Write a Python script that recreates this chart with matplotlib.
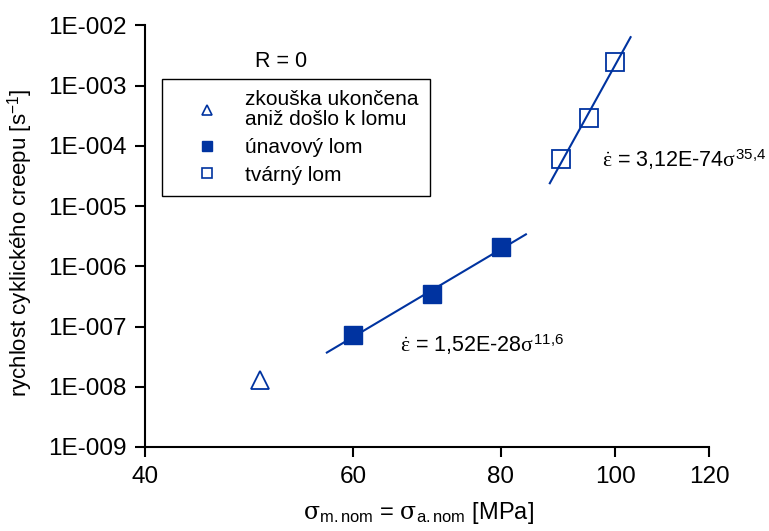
import math
import matplotlib
matplotlib.use("Agg")
import matplotlib.pyplot as plt
from matplotlib.lines import Line2D
from matplotlib.ticker import FixedLocator, FuncFormatter, NullLocator

plt.rcParams['font.family'] = ['Liberation Sans', 'DejaVu Sans']
plt.rcParams['mathtext.fontset'] = 'custom'
plt.rcParams['mathtext.rm'] = 'Liberation Sans'
plt.rcParams['mathtext.it'] = 'Liberation Serif'
plt.rcParams['mathtext.sf'] = 'DejaVu Serif'
plt.rcParams['mathtext.bf'] = 'Liberation Sans:bold'

# data
stop_x = [50]
stop_y = [1.3e-8]
fat_x = [60, 70, 80]
fat_y = [7.2e-8, 3.5e-7, 2.1e-6]
duct_x = [90, 95, 100]
duct_y = [6.0e-5, 2.9e-4, 2.5e-3]
# fitted lines, end points
fat_fit_x = [57, 84]
fat_fit_y = [3.7e-8, 3.4e-6]
duct_fit_x = [88, 103]
duct_fit_y = [2.4e-5, 6.4e-3]

x_ticks = [40, 60, 80, 100, 120]
y_ticks = [1e-9, 1e-8, 1e-7, 1e-6, 1e-5, 1e-4, 1e-3, 1e-2]
labels = ["zkouška ukončena\naniž došlo k lomu", "únavový lom", "tvárný lom"]

blue = '#0033a0'

fig = plt.figure(figsize=(7.69, 5.31), dpi=100)
ax = fig.add_axes([0.1886, 0.1582, 0.7334, 0.7938])

ax.plot(fat_fit_x, fat_fit_y, color=blue, lw=1.5)
ax.plot(duct_fit_x, duct_fit_y, color=blue, lw=1.5)
ax.plot(stop_x, stop_y, ls='none', marker='^', ms=13, mfc='white', mec=blue, mew=1.3)
ax.plot(fat_x, fat_y, ls='none', marker='s', ms=13, mfc=blue, mec=blue, mew=1.0)
ax.plot(duct_x, duct_y, ls='none', marker='s', ms=13, mfc='none', mec=blue, mew=1.3)

ax.set_xscale('log')
ax.set_yscale('log')
ax.set_xlim(40, 120)
ax.set_ylim(1e-9, 1e-2)
ax.xaxis.set_major_locator(FixedLocator(x_ticks))
ax.xaxis.set_minor_locator(NullLocator())
ax.xaxis.set_major_formatter(FuncFormatter(lambda v, p: f"{v:.0f}"))
ax.yaxis.set_major_locator(FixedLocator(y_ticks))
ax.yaxis.set_minor_locator(NullLocator())
ax.yaxis.set_major_formatter(FuncFormatter(lambda v, p: f"1E-{-round(math.log10(v)):03d}"))

for s in ['top', 'right']:
    ax.spines[s].set_visible(False)
for s in ['left', 'bottom']:
    ax.spines[s].set_linewidth(1.5)
ax.tick_params(direction='out', length=7, width=1.5, labelsize=17.5)
ax.tick_params(axis='x', pad=7)
ax.tick_params(axis='y', pad=6)

ax.set_ylabel("rychlost cyklického creepu [s$^{-1}$]", fontsize=16)
ax.yaxis.set_label_coords(-0.195, 0.485)
ax.set_xlabel(r"$\mathsf{\sigma}_{\mathrm{m.nom}}$ = $\mathsf{\sigma}_{\mathrm{a.nom}}$ [MPa]", fontsize=17)
ax.xaxis.set_label_coords(0.484, -0.125)

ax.text(0.2406, 0.914, "R = 0", transform=ax.transAxes, fontsize=15.5, ha='center', va='center')
ax.text(0.452, 0.242, r"$\dot{\varepsilon}$ = 1,52E-28$\sigma^{11{,}6}$", transform=ax.transAxes,
        fontsize=15.5, ha='left', va='center')
ax.text(0.810, 0.681, r"$\dot{\varepsilon}$ = 3,12E-74$\sigma^{35{,}4}$", transform=ax.transAxes,
        fontsize=15.5, ha='left', va='center')

handles = [
    Line2D([], [], ls='none', marker='^', ms=7, mfc='white', mec=blue, mew=1.2),
    Line2D([], [], ls='none', marker='s', ms=7, mfc=blue, mec=blue),
    Line2D([], [], ls='none', marker='s', ms=7, mfc='white', mec=blue, mew=1.2),
]
leg = ax.legend(handles, labels, loc='upper left', bbox_to_anchor=(0.030, 0.873), fontsize=15,
                frameon=True, fancybox=False, edgecolor='black', framealpha=1,
                borderpad=0.55, handlelength=3.2, handletextpad=0.25, labelspacing=0.42,
                borderaxespad=0)
leg.get_frame().set_linewidth(1.0)
for t in leg.get_texts():
    t.set_linespacing(1.05)

fig.savefig("out.png", dpi=100)
